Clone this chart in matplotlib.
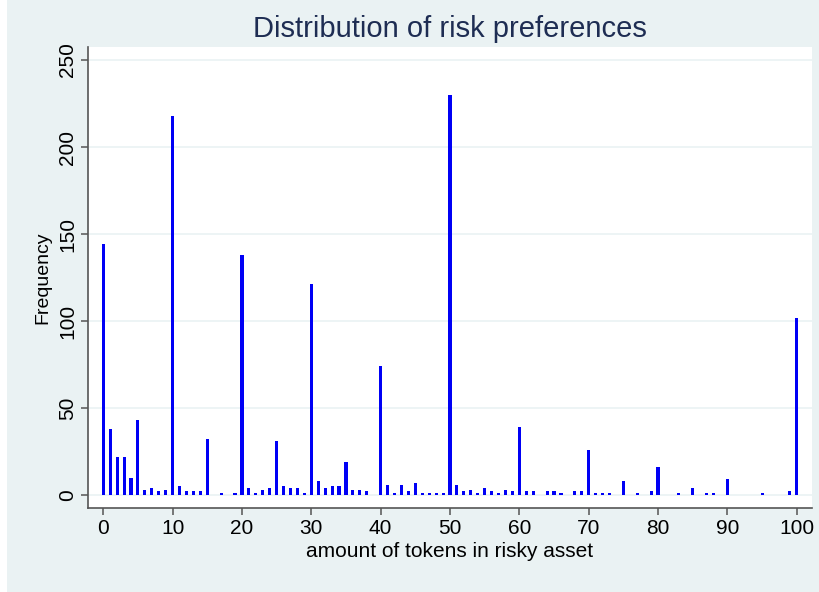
import numpy as np
import matplotlib
matplotlib.use("Agg")
import matplotlib.pyplot as plt
from matplotlib.patches import Rectangle

# tokens placed in the risky asset, and how many subjects chose each amount
tokens = [0, 1, 2, 3, 4, 5, 6, 7, 8, 9,
          10, 11, 12, 13, 14, 15, 17, 19,
          20, 21, 22, 23, 24, 25, 26, 27, 28, 29,
          30, 31, 32, 33, 34, 35, 36, 37, 38,
          40, 41, 42, 43, 44, 45, 46, 47, 48, 49,
          50, 51, 52, 53, 54, 55, 56, 57, 58, 59,
          60, 61, 62, 64, 65, 66, 68, 69,
          70, 71, 72, 73, 75, 77, 79,
          80, 83, 85, 87, 88, 90, 95, 99, 100]
frequency = [144, 38, 22, 22, 10, 43, 3, 4, 2, 3,
             218, 5, 2, 2, 2, 32, 1, 1,
             138, 4, 1, 3, 4, 31, 5, 4, 4, 1,
             121, 8, 4, 5, 5, 19, 3, 3, 2,
             74, 6, 1, 6, 2, 7, 1, 1, 1, 1,
             230, 6, 2, 3, 1, 4, 2, 1, 3, 2,
             39, 2, 2, 2, 2, 1, 2, 2,
             26, 1, 1, 1, 8, 1, 2,
             16, 1, 4, 1, 1, 9, 1, 2, 102]

x_ticks = list(range(0, 101, 10))
y_ticks = [0, 50, 100, 150, 200, 250]

bg = "#EAF2F3"
bar_color = "#0000F5"
title_color = "#1E2D53"
axis_color = "#555555"

plt.rcParams["font.family"] = ["Liberation Sans", "DejaVu Sans"]

fig = plt.figure(figsize=(8.2, 5.92), dpi=100, facecolor="white")
fig.patches.append(Rectangle((7 / 820, 0), 1, 1, transform=fig.transFigure,
                             facecolor=bg, edgecolor="none", zorder=-10))

ax = fig.add_axes([88 / 820, 1 - 508 / 592, (812 - 88) / 820, (508 - 47) / 592])
ax.set_facecolor("white")

ax.bar(tokens, frequency, width=0.45, color=bar_color, zorder=3)

ax.set_xlim(-2.2, 102.2)
ax.set_ylim(-7.5, 257.5)
ax.set_xticks(x_ticks)
ax.set_yticks(y_ticks)
ax.grid(axis="y", color=bg, linewidth=1.2, zorder=0)

for side in ["top", "right"]:
    ax.spines[side].set_visible(False)
for side in ["left", "bottom"]:
    ax.spines[side].set_color(axis_color)
    ax.spines[side].set_linewidth(1.2)

ax.tick_params(axis="both", direction="out", length=5, width=1.1,
               color=axis_color, labelsize=15, pad=3)
plt.setp(ax.get_yticklabels(), rotation=90, va="center")

ax.set_xlabel("amount of tokens in risky asset", fontsize=15, labelpad=3)
ax.set_ylabel("Frequency", fontsize=14, labelpad=5)
ax.set_title("Distribution of risk preferences", fontsize=21,
             color=title_color, pad=7)

plt.savefig("out.png", dpi=100, facecolor=fig.get_facecolor())
